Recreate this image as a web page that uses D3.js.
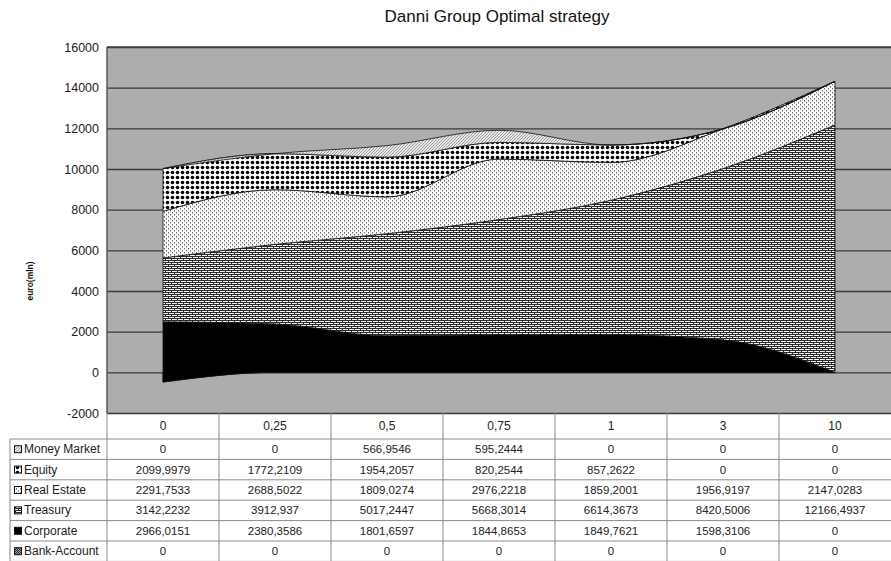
<!DOCTYPE html>
<html>
<head>
<meta charset="utf-8">
<script src="https://cdn.jsdelivr.net/npm/d3@7"></script>
<style>
  html, body { margin: 0; padding: 0; background: #ffffff; }
  svg { display: block; font-family: "Liberation Sans", Arial, sans-serif; }
</style>
</head>
<body>
<svg id="chart" width="891" height="561"></svg>
<script>
// ---------------- DATA ----------------
const title = "Danni Group Optimal strategy";
const yLabel = "euro(mln)";
const categories = ["0", "0,25", "0,5", "0,75", "1", "3", "10"];
const yTicks = [-2000, 0, 2000, 4000, 6000, 8000, 10000, 12000, 14000, 16000];

const moneyMarket = [0, 0, 566.9546, 595.2444, 0, 0, 0];
const equity      = [2099.9979, 1772.2109, 1954.2057, 820.2544, 857.2622, 0, 0];
const realEstate  = [2291.7533, 2688.5022, 1809.0274, 2976.2218, 1859.2001, 1956.9197, 2147.0283];
const treasury    = [3142.2232, 3912.937, 5017.2447, 5668.3014, 6614.3673, 8420.5006, 12166.4937];
const corporate   = [2966.0151, 2380.3586, 1801.6597, 1844.8653, 1849.7621, 1598.3106, 0];
// as drawn in the plot (the area dips below zero at the first point)
const bankAccount = [-480, 0, 0, 0, 0, 0, 0];
// as printed in the data table
const bankAccountTable = ["0", "0", "0", "0", "0", "0", "0"];

// series, bottom of stack first
const seriesNames = ["Bank-Account", "Corporate", "Treasury", "Real Estate", "Equity", "Money Market"];
const seriesValues = [bankAccount, corporate, treasury, realEstate, equity, moneyMarket];
const seriesPatterns = ["pBank", "pCorp", "pTreas", "pReal", "pEquity", "pMoney"];
// table rows, top first
const tableOrder = ["Money Market", "Equity", "Real Estate", "Treasury", "Corporate", "Bank-Account"];

// ---------------- LAYOUT ----------------
const svg = d3.select("#chart");
const plot = { left: 107, right: 891, top: 47, bottom: 413 };

const defs = svg.append("defs");
// Corporate: solid black
const pc = defs.append("pattern").attr("id", "pCorp").attr("patternUnits", "userSpaceOnUse").attr("width", 4).attr("height", 4);
pc.append("rect").attr("width", 4).attr("height", 4).attr("fill", "#000");
// Treasury: small bricks
const pt = defs.append("pattern").attr("id", "pTreas").attr("patternUnits", "userSpaceOnUse").attr("width", 6).attr("height", 4);
pt.append("rect").attr("width", 6).attr("height", 4).attr("fill", "#f2f2f2");
pt.append("rect").attr("x", 0).attr("y", 0).attr("width", 6).attr("height", 1).attr("fill", "#2a2a2a");
pt.append("rect").attr("x", 0).attr("y", 2).attr("width", 6).attr("height", 1).attr("fill", "#2a2a2a");
pt.append("rect").attr("x", 0).attr("y", 1).attr("width", 1).attr("height", 1).attr("fill", "#2a2a2a");
pt.append("rect").attr("x", 3).attr("y", 3).attr("width", 1).attr("height", 1).attr("fill", "#2a2a2a");
// Real Estate: sparse small dots
const pr = defs.append("pattern").attr("id", "pReal").attr("patternUnits", "userSpaceOnUse").attr("width", 4).attr("height", 4);
pr.append("rect").attr("width", 4).attr("height", 4).attr("fill", "#fafafa");
pr.append("rect").attr("x", 0).attr("y", 0).attr("width", 1).attr("height", 1.5).attr("fill", "#6a6a6a");
pr.append("rect").attr("x", 2).attr("y", 2).attr("width", 1).attr("height", 1.5).attr("fill", "#6a6a6a");
// Equity: large black dots
const pe = defs.append("pattern").attr("id", "pEquity").attr("patternUnits", "userSpaceOnUse").attr("width", 5).attr("height", 5);
pe.append("rect").attr("width", 5).attr("height", 5).attr("fill", "#fff");
pe.append("circle").attr("cx", 2.5).attr("cy", 2.5).attr("r", 1.8).attr("fill", "#000");
// Money Market: fine diagonal hatch
const pm = defs.append("pattern").attr("id", "pMoney").attr("patternUnits", "userSpaceOnUse").attr("width", 3).attr("height", 3);
pm.append("rect").attr("width", 3).attr("height", 3).attr("fill", "#e8e8e8");
pm.append("path").attr("d", "M0,3 L3,0").attr("stroke", "#888").attr("stroke-width", 0.8);
// Bank-Account: dark checker
const pb = defs.append("pattern").attr("id", "pBank").attr("patternUnits", "userSpaceOnUse").attr("width", 2).attr("height", 2);
pb.append("rect").attr("width", 2).attr("height", 2).attr("fill", "#999");
pb.append("rect").attr("width", 1).attr("height", 1).attr("fill", "#333");
pb.append("rect").attr("x", 1).attr("y", 1).attr("width", 1).attr("height", 1).attr("fill", "#333");

// scales
const x = d3.scaleBand().domain(categories).range([plot.left, plot.right]).padding(0);
const cx = c => x(c) + x.bandwidth() / 2;
const y = d3.scaleLinear().domain([-2000, 16000]).range([plot.bottom, plot.top]);

// title
svg.append("text").attr("x", 497).attr("y", 22).attr("text-anchor", "middle")
  .attr("font-size", 17).attr("fill", "#111").text(title);

// plot background
svg.append("rect").attr("x", plot.left).attr("y", plot.top)
  .attr("width", plot.right - plot.left).attr("height", plot.bottom - plot.top)
  .attr("fill", "#adadad");

// gridlines
const grid = svg.append("g").attr("transform", `translate(${plot.left},0)`)
  .call(d3.axisLeft(y).tickValues(yTicks).tickSize(-(plot.right - plot.left)).tickFormat(""));
grid.select(".domain").remove();
grid.selectAll("line").attr("stroke", "#3a3a3a").attr("stroke-width", 1.3);

// stacked data
const rows = categories.map((c, i) => {
  const o = { cat: c };
  seriesNames.forEach((n, k) => { o[n] = seriesValues[k][i]; });
  return o;
});
const stacked = d3.stack().keys(seriesNames).offset(d3.stackOffsetNone)(rows);

const area = d3.area()
  .x(d => cx(d.data.cat))
  .y0(d => y(d[0]))
  .y1(d => y(d[1]))
  .curve(d3.curveMonotoneX);

svg.append("g").selectAll("path").data(stacked).join("path")
  .attr("d", area)
  .attr("fill", (d, i) => `url(#${seriesPatterns[i]})`)
  .attr("stroke", "#111").attr("stroke-width", 0.8);

// plot frame
svg.append("line").attr("x1", plot.left).attr("x2", plot.right).attr("y1", plot.top).attr("y2", plot.top)
  .attr("stroke", "#444").attr("stroke-width", 1.3);
svg.append("line").attr("x1", plot.left).attr("x2", plot.left).attr("y1", plot.top).attr("y2", plot.bottom)
  .attr("stroke", "#444").attr("stroke-width", 1.3);

// y axis labels
const ya = svg.append("g").attr("transform", `translate(${plot.left},0)`)
  .call(d3.axisLeft(y).tickValues(yTicks).tickSize(0).tickPadding(8).tickFormat(d => String(d)));
ya.select(".domain").remove();
ya.selectAll("text").attr("font-size", 12.5).attr("fill", "#222")
  .attr("font-family", "'Liberation Sans', Arial, sans-serif");

// y axis title
svg.append("text").attr("transform", "translate(33,281) rotate(-90)")
  .attr("text-anchor", "middle").attr("font-size", 8.5).attr("font-weight", "bold")
  .attr("fill", "#111").text(yLabel);

// ---------------- DATA TABLE ----------------
const tbl = svg.append("g");
const headerTop = plot.bottom, headerBottom = 439, rowH = 20.4;
const legendLeft = 10;
const nRows = tableOrder.length;
const tableBottom = headerBottom + rowH * nRows;
const lineColor = "#8a8a8a";

// header row: category labels
tbl.selectAll("text.cat").data(categories).join("text").attr("class", "cat")
  .attr("x", d => cx(d)).attr("y", (headerTop + headerBottom) / 2 + 4)
  .attr("text-anchor", "middle").attr("font-size", 12).attr("fill", "#222").text(d => d);

// horizontal lines
const hLines = d3.range(nRows + 1).map(i => headerBottom + i * rowH);
tbl.selectAll("line.h").data(hLines).join("line").attr("class", "h")
  .attr("x1", legendLeft).attr("x2", plot.right).attr("y1", d => d).attr("y2", d => d)
  .attr("stroke", lineColor).attr("stroke-width", 1);
// vertical lines between categories
const vLines = categories.slice(1).map(c => x(c));
tbl.selectAll("line.v").data(vLines).join("line").attr("class", "v")
  .attr("x1", d => d).attr("x2", d => d).attr("y1", headerTop).attr("y2", tableBottom)
  .attr("stroke", lineColor).attr("stroke-width", 1);
// left borders
tbl.append("line").attr("x1", plot.left).attr("x2", plot.left).attr("y1", headerTop).attr("y2", tableBottom)
  .attr("stroke", lineColor);
tbl.append("line").attr("x1", legendLeft).attr("x2", legendLeft).attr("y1", headerBottom).attr("y2", tableBottom)
  .attr("stroke", lineColor);

const fmt = v => String(v).replace(".", ",");
tableOrder.forEach((name, r) => {
  const k = seriesNames.indexOf(name);
  const yc = headerBottom + rowH * r + rowH / 2;
  // legend key
  tbl.append("rect").attr("x", 14.5).attr("y", yc - 3.5).attr("width", 7).attr("height", 7)
    .attr("fill", `url(#${seriesPatterns[k]})`).attr("stroke", "#111").attr("stroke-width", 1);
  tbl.append("text").attr("x", 24).attr("y", yc + 4).attr("font-size", 12).attr("fill", "#222").text(name);
  const labels = name === "Bank-Account" ? bankAccountTable : seriesValues[k].map(fmt);
  categories.forEach((c, i) => {
    tbl.append("text").attr("x", cx(c)).attr("y", yc + 4).attr("text-anchor", "middle")
      .attr("font-size", 11.5).attr("fill", "#222").text(labels[i]);
  });
});
</script>
</body>
</html>
